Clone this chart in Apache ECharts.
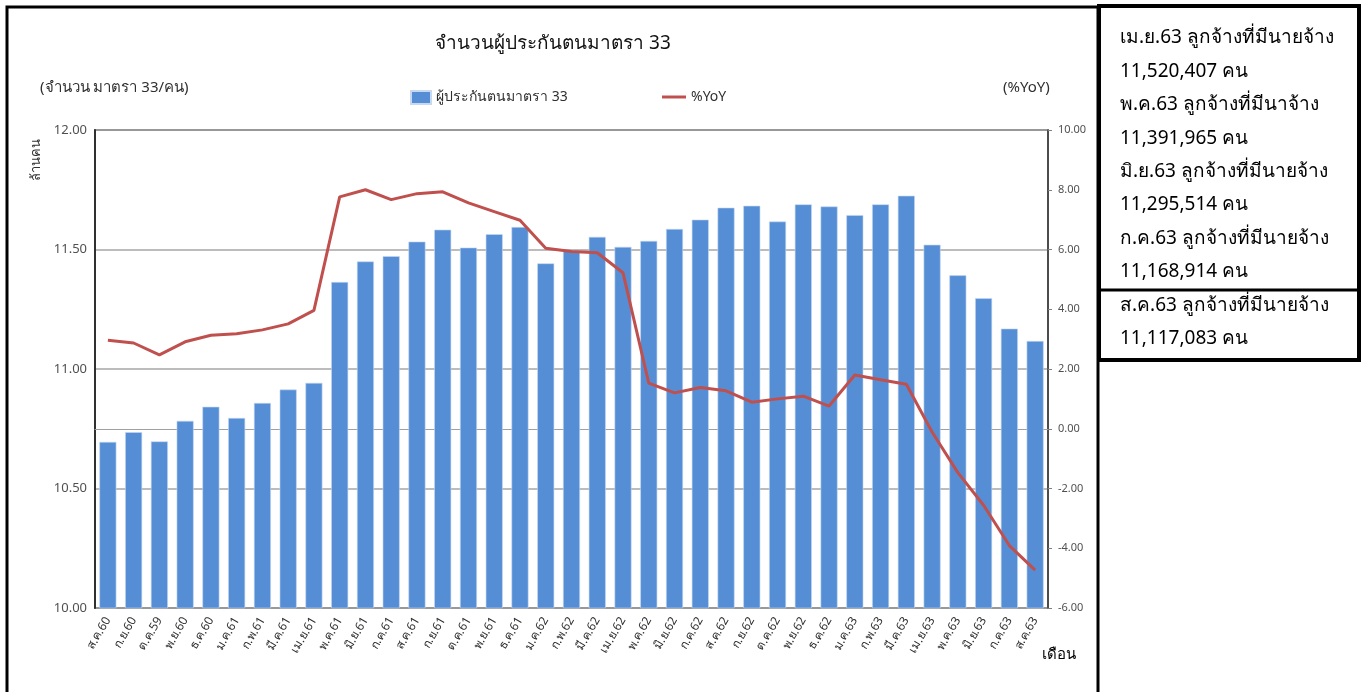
<!DOCTYPE html>
<html>
<head>
<meta charset="utf-8">
<script src="https://cdn.jsdelivr.net/npm/echarts@6/dist/echarts.min.js"></script>
<style>
  html, body { margin: 0; padding: 0; background: #fff; }
  #main { width: 1362px; height: 692px; }
</style>
</head>
<body>
<div id="main"></div>
<script>
// เดือน
const months = ["ส.ค.60","ก.ย.60","ต.ค.59","พ.ย.60","ธ.ค.60","ม.ค.61","ก.พ.61","มี.ค.61","เม.ย.61",
  "พ.ค.61","มิ.ย.61","ก.ค.61","ส.ค.61","ก.ย.61","ต.ค.61","พ.ย.61","ธ.ค.61","ม.ค.62","ก.พ.62",
  "มี.ค.62","เม.ย.62","พ.ค.62","มิ.ย.62","ก.ค.62","ส.ค.62","ก.ย.62","ต.ค.62","พ.ย.62","ธ.ค.62",
  "ม.ค.63","ก.พ.63","มี.ค.63","เม.ย.63","พ.ค.63","มิ.ย.63","ก.ค.63","ส.ค.63"]

// ผู้ประกันตน (ล้านคน)
const insured = [10.695,10.736,10.697,10.783,10.842,10.795,10.858,10.914,10.942,
  11.364,11.450,11.472,11.533,11.583,11.508,11.564,11.594,11.442,11.497,
  11.553,11.511,11.536,11.586,11.625,11.675,11.683,11.617,11.689,11.680,
  11.644,11.689,11.725,11.520,11.392,11.296,11.169,11.117]

// %YoY
const yoy = [2.96,2.87,2.47,2.91,3.13,3.18,3.31,3.51,3.96,
  7.76,8.00,7.67,7.87,7.93,7.56,7.27,6.98,6.04,5.93,
  5.89,5.22,1.53,1.20,1.38,1.27,0.89,1.00,1.09,0.76,
  1.80,1.64,1.49,-0.11,-1.47,-2.56,-3.91,-4.73]

// กล่องข้อความด้านขวา
const noteLines = ["เม.ย.63 ลูกจ้างที่มีนายจ้าง","11,520,407 คน","พ.ค.63 ลูกจ้างที่มีนาจ้าง","11,391,965 คน",
  "มิ.ย.63 ลูกจ้างที่มีนายจ้าง","11,295,514 คน","ก.ค.63 ลูกจ้างที่มีนายจ้าง","11,168,914 คน",
  "ส.ค.63 ลูกจ้างที่มีนายจ้าง","11,117,083 คน"]

const FONT = 'Tahoma, "Noto Sans", "DejaVu Sans", sans-serif'

let graphics = [
  // กรอบนอก
  { type: 'polyline', shape: { points: [[7, 700], [7, 7], [1098, 7], [1098, 700]] },
    style: { stroke: '#000', lineWidth: 3, fill: null } },
  // กล่องขวา
  { type: 'rect', shape: { x: 1099, y: 6, width: 260, height: 354 },
    style: { stroke: '#000', lineWidth: 4, fill: '#fff' } },
  { type: 'line', shape: { x1: 1099, y1: 290, x2: 1359, y2: 290 },
    style: { stroke: '#000', lineWidth: 3 } },
  { type: 'text', left: 40, top: 80,
    style: { text: '(จำนวน มาตรา 33/คน)', font: '15px ' + FONT, fill: '#303030' } },
  { type: 'text', left: 1003, top: 80,
    style: { text: '(%YoY)', font: '15px ' + FONT, fill: '#303030' } },
  { type: 'text', x: 36, y: 160, rotation: Math.PI / 2,
    style: { text: 'ล้านคน', font: '13px ' + FONT, fill: '#303030', align: 'center', verticalAlign: 'middle' } },
  { type: 'text', left: 1042, top: 647,
    style: { text: 'เดือน', font: '15px ' + FONT, fill: '#000' } }
]
noteLines.forEach((t, i) => {
  graphics.push({ type: 'text', x: 1120, y: 38 + i * 33.4,
    style: { text: t, font: '19px ' + FONT, fill: '#000', verticalAlign: 'middle' } })
})

var myChart = echarts.init(document.getElementById('main'))
var option = {
  animation: false,
  textStyle: { fontFamily: FONT },
  title: {
    text: 'จำนวนผู้ประกันตนมาตรา 33',
    left: 548, top: 29, textAlign: 'center',
    textStyle: { fontSize: 19, fontWeight: 'normal', color: '#111', fontFamily: FONT }
  },
  legend: [
    { data: ['ผู้ประกันตนมาตรา 33'], left: 405, top: 85, icon: 'rect', itemWidth: 20, itemHeight: 13,
      selectedMode: false, textStyle: { fontSize: 14, color: '#303030' } },
    { data: ['%YoY'], left: 657, top: 85, icon: 'rect', itemWidth: 24, itemHeight: 3,
      selectedMode: false, textStyle: { fontSize: 14, color: '#303030' } }
  ],
  grid: { left: 95, right: 314, top: 130, bottom: 84, show: true, borderColor: '#404040', borderWidth: 1.5 },
  xAxis: {
    type: 'category',
    data: months,
    axisLine: { lineStyle: { color: '#a0a0a0' } },
    axisTick: { show: false },
    axisLabel: { rotate: 60, fontSize: 12, color: '#303030', interval: 0, margin: 10 }
  },
  yAxis: [
    { type: 'value', min: 10, max: 12, interval: 0.5, position: 'left',
      axisLine: { show: true, lineStyle: { color: '#303030', width: 2 } },
      axisTick: { show: false },
      axisLabel: { formatter: v => v.toFixed(2), fontSize: 13, color: '#505050', margin: 8 },
      splitLine: { lineStyle: { color: '#a6a6a6', width: 1.5 } } },
    { type: 'value', min: -6, max: 10, interval: 2, position: 'right',
      axisLine: { show: true, lineStyle: { color: '#404040', width: 1.5 } },
      axisTick: { show: true, length: 4, lineStyle: { color: '#808080' } },
      axisLabel: { formatter: v => v.toFixed(2), fontSize: 11, color: '#505050', margin: 10 },
      splitLine: { show: false } }
  ],
  series: [
    { name: 'ผู้ประกันตนมาตรา 33', type: 'bar', data: insured, barWidth: '66%', yAxisIndex: 0,
      itemStyle: { color: '#558ed5', borderColor: '#c6d9f1', borderWidth: 0.6 } },
    { name: '%YoY', type: 'line', data: yoy, yAxisIndex: 1, symbol: 'none',
      lineStyle: { color: '#c0504d', width: 3 }, itemStyle: { color: '#c0504d' } }
  ],
  graphic: graphics
}
myChart.setOption(option)
</script>
</body>
</html>
